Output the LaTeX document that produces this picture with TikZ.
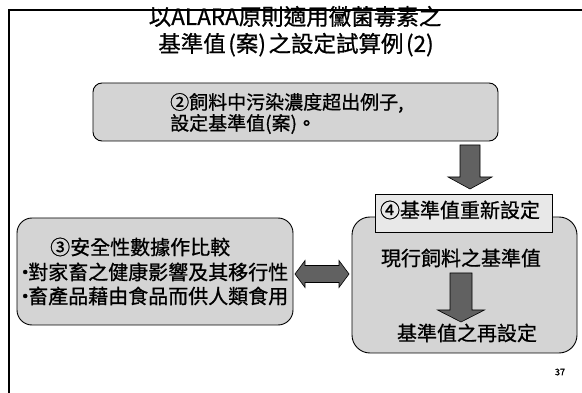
\documentclass[tikz,border=0pt]{standalone}
\usepackage{fontspec}
\setmainfont{Noto Sans CJK TC}[FakeBold=0.8]
\newfontfamily\pnfont{Noto Sans CJK TC}[FakeBold=1.5]
\begin{document}
\begin{tikzpicture}[x=1pt,y=-1pt,
  boxfill/.style={fill=black!17},
  roundbox/.style={draw=black,line width=0.9pt,boxfill,rounded corners=#1},
  headbox/.style={draw=black,line width=0.8pt,fill=black!9},
  blockarrow/.style={draw=black,line width=0.6pt,fill=black!62,line join=miter},
  txt/.style={inner sep=0pt,font=\fontsize{20}{24}\selectfont},
  ttl/.style={inner sep=0pt,font=\fontsize{22.5}{26}\selectfont},
  txtb/.style={inner sep=0pt,font=\fontsize{19}{23}\selectfont},
  frameline/.style={line width=1.3pt,black}
]
\newcommand{\bul}{\makebox[6pt][c]{·}}
\newcommand{\pk}{\kern2.5pt}
\useasboundingbox (0,0) rectangle (582,393);
% frame
\coordinate (fTL) at (9,10);
\coordinate (fTR) at (582,10);
\coordinate (fBL) at (9,393);
\draw[frameline] (fBL) -- (fTL) -- (fTR);
% title
\node[ttl,anchor=base] (t1) at (295,25) {以ALARA原則適用黴菌毒素之};
\node[ttl,anchor=base] (t2) at (296,52) {基準值\pk(案)\pk 之設定試算例\pk(2)};
% box 1
\path[roundbox=9pt] (93,83) rectangle (498,141);
\node[inner sep=0pt,minimum width=405pt,minimum height=58pt] (b1) at (295.5,112) {};
\node[txtb,anchor=base west] (b1l1) at (170,109.2) {②飼料中污染濃度超出例子,};
\node[txtb,anchor=base west] (b1l2) at (170,130.2) {設定基準值(案)。};
% down arrow 1
\coordinate (a1) at (470,145);
\draw[blockarrow,shift={(a1)}] (-10,0) -- (10,0) -- (10,32) -- (22,32) -- (0,44)
  -- (-22,32) -- (-10,32) -- cycle;
% left box
\path[roundbox=15pt] (17,218) rectangle (293,325);
\node[inner sep=0pt,minimum width=276pt,minimum height=107pt] (lb) at (155,271.5) {};
\node[txt,anchor=base west] (l1) at (50,254.6) {③安全性數據作比較};
\node[txt,anchor=base west] (l2) at (22,279.6) {\bul 對家畜之健康影響及其移行性};
\node[txt,anchor=base west] (l3) at (22,303.6) {\bul 畜產品藉由食品而供人類食用};
% right box
\path[roundbox=18pt] (352,217) rectangle (577,353);
\node[inner sep=0pt,minimum width=225pt,minimum height=136pt] (rb) at (464.5,285) {};
% header box
\node[headbox,minimum width=177pt,minimum height=38pt,inner sep=0pt] (hb) at (463.5,213) {};
\node[txt,anchor=base] (h1) at (460,217.6) {④基準值重新設定};
\node[txt,anchor=base] (r1) at (461,265.6) {現行飼料之基準值};
\node[txt,anchor=base] (r2) at (467,340.6) {基準值之再設定};
% inner arrow
\coordinate (a2) at (461,273);
\draw[blockarrow,shift={(a2)}] (-11,0) -- (11,0) -- (11,37) -- (23.5,37) -- (0,49)
  -- (-23.5,37) -- (-11,37) -- cycle;
% double arrow
\coordinate (a3) at (322,274);
\draw[blockarrow,shift={(a3)}] (-27,0) -- (-17,-13.5) -- (-17,-8.5) -- (17,-8.5)
  -- (17,-13.5) -- (27,0) -- (17,13.5) -- (17,8.5) -- (-17,8.5) -- (-17,13.5) -- cycle;
% page number
\node[inner sep=0pt,font=\pnfont\fontsize{9}{10}\selectfont] (pn) at (560,372) {37};
\end{tikzpicture}
\end{document}
